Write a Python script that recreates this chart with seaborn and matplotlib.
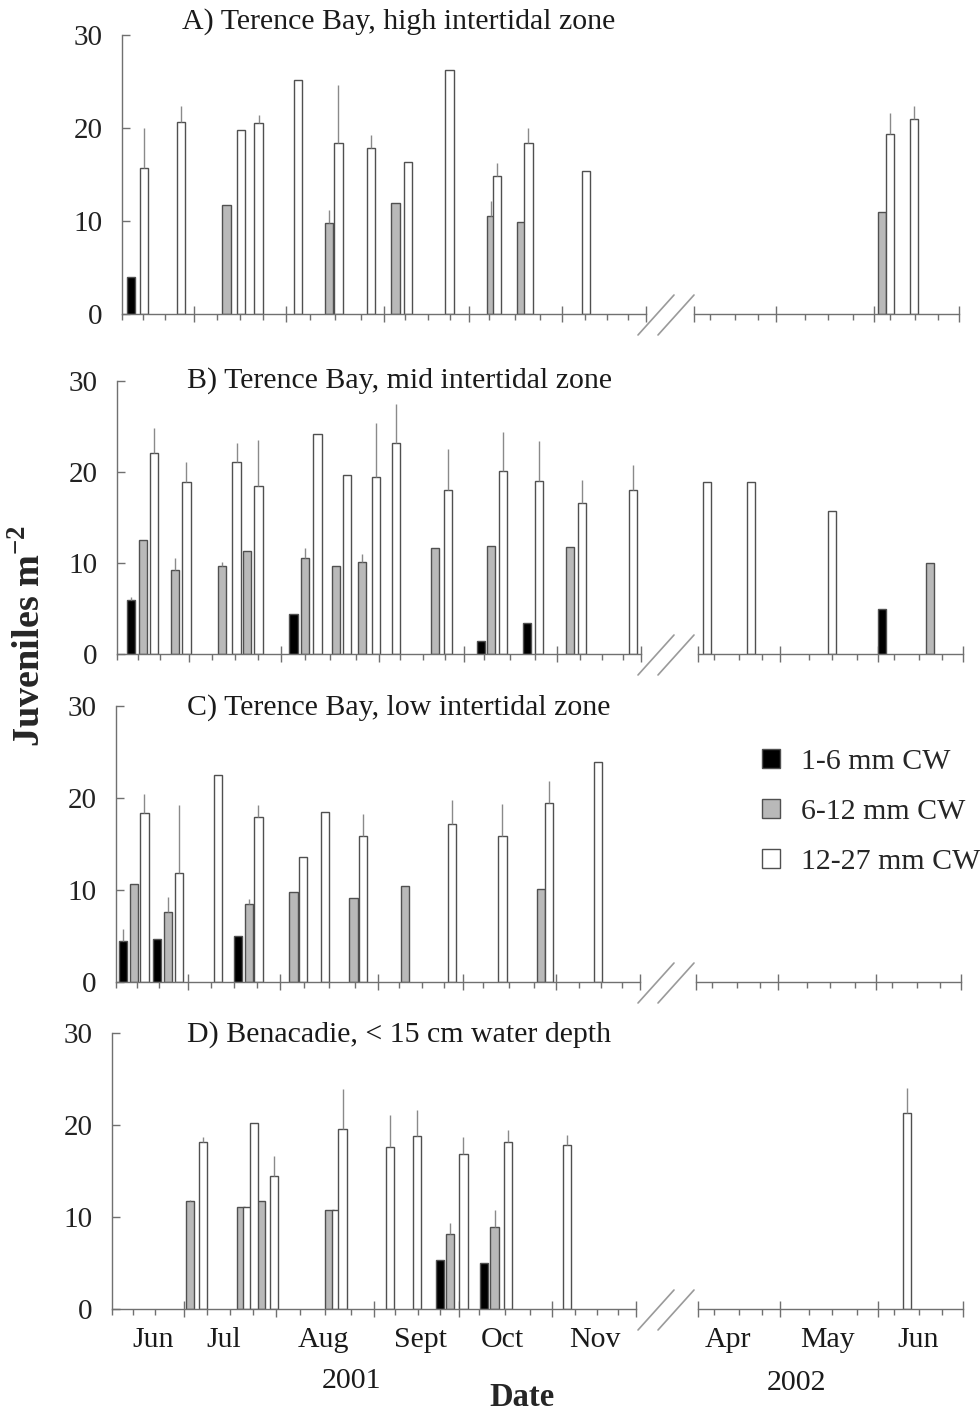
import numpy as np
import pandas as pd
import matplotlib
matplotlib.use("Agg")
import matplotlib.pyplot as plt
import seaborn as sns
from matplotlib.patches import Patch
from matplotlib.lines import Line2D

sns.set_theme(style="white")
plt.rcParams["font.family"] = ["Liberation Serif", "DejaVu Serif"]
plt.rcParams["mathtext.fontset"] = "custom"
plt.rcParams["mathtext.rm"] = "Liberation Serif"
plt.rcParams["mathtext.bf"] = "Liberation Serif:bold"

# ---------------- data ----------------
CLASSES = ["1-6 mm CW", "6-12 mm CW", "12-27 mm CW"]
TITLES = ["A) Terence Bay, high intertidal zone",
          "B) Terence Bay, mid intertidal zone",
          "C) Terence Bay, low intertidal zone",
          "D) Benacadie, < 15 cm water depth"]
MONTHS_2001 = ["Jun", "Jul", "Aug", "Sept", "Oct", "Nov"]
MONTHS_2002 = ["Apr", "May", "Jun"]
YEARS = ["2001", "2002"]

# sampling day (days from axis start), size class index, mean, upper SE
A_2001_DAY = [2.8, 6.8, 18.0, 31.9, 36.4, 41.7, 53.7, 63.3, 66.1, 76.0, 83.5, 87.3, 100.0, 112.7, 114.6, 121.9, 124.1, 141.6]
A_2001_CLS = [0, 2, 2, 1, 2, 2, 2, 1, 2, 2, 1, 2, 2, 1, 2, 1, 2, 2]
A_2001_VAL = [4.0, 15.7, 20.6, 11.7, 19.8, 20.5, 25.2, 9.8, 18.4, 17.9, 11.9, 16.3, 26.2, 10.5, 14.8, 9.9, 18.4, 15.4]
A_2001_ERR = [0, 4.3, 1.8, 0, 0, 0.9, 0, 1.4, 6.2, 1.3, 0, 0, 0, 1.6, 1.4, 0, 1.6, 0]
A_2002_DAY = [57.5, 59.9, 67.3]
A_2002_CLS = [1, 2, 2]
A_2002_VAL = [11.0, 19.4, 21.0]
A_2002_ERR = [0, 2.2, 1.4]

B_2001_DAY = [4.3, 7.9, 11.4, 17.7, 21.2, 32.1, 36.5, 39.7, 43.2, 53.9, 57.5, 61.2, 66.8, 70.3, 74.9, 79.0, 85.3,
              97.0, 101.0, 111.2, 114.2, 117.9, 125.3, 128.9, 138.4, 142.0, 157.5]
B_2001_CLS = [0, 1, 2, 1, 2, 1, 2, 1, 2, 0, 1, 2, 1, 2, 1, 2, 2, 1, 2, 0, 1, 2, 0, 2, 1, 2, 2]
B_2001_VAL = [5.9, 12.5, 22.1, 9.2, 18.9, 9.7, 21.1, 11.3, 18.5, 4.4, 10.6, 24.2, 9.7, 19.7, 10.1, 19.5, 23.2,
              11.7, 18.0, 1.4, 11.9, 20.1, 3.4, 19.0, 11.8, 16.6, 18.0]
B_2001_ERR = [0.4, 0, 2.7, 1.3, 2.2, 0.4, 2.1, 0, 5.0, 0, 1.0, 0, 0, 0, 0.9, 5.9, 4.3,
              0, 4.5, 0, 0, 4.3, 0, 4.4, 0, 2.5, 2.8]
B_2002_DAY = [2.8, 16.3, 41.0, 56.3, 70.9]
B_2002_CLS = [2, 2, 2, 0, 1]
B_2002_VAL = [18.9, 18.9, 15.7, 5.0, 10.0]
B_2002_ERR = [0, 0, 0, 0, 0]

C_2001_DAY = [2.1, 5.4, 8.7, 12.6, 16.0, 19.3, 31.1, 37.3, 40.6, 43.5, 54.2, 57.1, 63.7, 72.5, 75.3, 88.2,
              102.7, 118.0, 129.7, 132.2, 147.1]
C_2001_CLS = [0, 1, 2, 0, 1, 2, 2, 0, 1, 2, 1, 2, 2, 1, 2, 1, 2, 2, 1, 2, 2]
C_2001_VAL = [4.5, 10.7, 18.4, 4.7, 7.6, 11.8, 22.5, 5.0, 8.5, 17.9, 9.75, 13.6, 18.5, 9.1, 15.9, 10.4,
              17.2, 15.9, 10.1, 19.5, 23.9]
C_2001_ERR = [1.3, 0, 2.0, 0, 1.6, 7.4, 0, 0, 0.5, 1.3, 0, 0, 0, 0, 2.4, 0, 2.6, 3.5, 0, 2.4, 0]
C_2002_DAY = []
C_2002_CLS = []
C_2002_VAL = []
C_2002_ERR = []

D_2001_DAY = [23.7, 27.7, 39.5, 41.3, 43.3, 45.5, 49.5, 66.4, 68.4, 70.4, 84.9, 93.1, 100.2, 103.3, 107.3,
              113.5, 116.8, 120.9, 138.9]
D_2001_CLS = [1, 2, 1, 2, 2, 1, 2, 1, 2, 2, 2, 2, 0, 1, 2, 0, 1, 2, 2]
D_2001_VAL = [11.7, 18.1, 11.1, 11.1, 20.2, 11.7, 14.5, 10.8, 10.8, 19.6, 17.6, 18.8, 5.3, 8.15, 16.9,
              5.0, 8.95, 18.1, 17.8]
D_2001_ERR = [0.2, 0.6, 0, 0, 0, 0, 2.1, 0, 0, 4.3, 3.5, 2.8, 0, 1.25, 1.8, 0, 1.85, 1.4, 1.1]
D_2002_DAY = [63.9]
D_2002_CLS = [2]
D_2002_VAL = [21.3]
D_2002_ERR = [2.7]

# ---------------- style / layout ----------------
W, H = 980, 1412
FS = 21.5
PALETTE = {CLASSES[0]: "#000000", CLASSES[1]: "#b9b9b9", CLASSES[2]: "#ffffff"}
EDGE = "#505050"
AXC = "#707070"
ERRC = "#8a8a8a"
BAR_W = 2.5
LEFT_MAX, RIGHT_MAX = 160, 81

# pixel layout per panel: (left axis x0, right axis x0, baseline y, top y, title centre y)
LAYOUT = [(122, 694, 314, 35, 22),
          (117, 698, 654, 381, 381),
          (116, 696, 982, 706, 708),
          (112, 698, 1309, 1033, 1035)]
LEFT_W, RIGHT_W = 524, 265
L_MAJ = [22, 50, 80, 106, 134.5, 160]
L_MIN = [0, 6.5, 13, 29, 36, 43, 57.5, 65, 73, 86.5, 93.5, 100, 112, 120, 127.5, 141.5, 148, 154.5]
R_MAJ = [0, 25, 55, 81]
R_MIN = [5, 12.5, 19.5, 34, 41, 48.5, 60, 67.5, 74.5]
M2001_POS = [12.5, 34, 64.5, 94.1, 119.1, 147.5]
M2002_POS = [9.2, 39.7, 67.2]

DATA = [
    ((A_2001_DAY, A_2001_CLS, A_2001_VAL, A_2001_ERR), (A_2002_DAY, A_2002_CLS, A_2002_VAL, A_2002_ERR)),
    ((B_2001_DAY, B_2001_CLS, B_2001_VAL, B_2001_ERR), (B_2002_DAY, B_2002_CLS, B_2002_VAL, B_2002_ERR)),
    ((C_2001_DAY, C_2001_CLS, C_2001_VAL, C_2001_ERR), (C_2002_DAY, C_2002_CLS, C_2002_VAL, C_2002_ERR)),
    ((D_2001_DAY, D_2001_CLS, D_2001_VAL, D_2001_ERR), (D_2002_DAY, D_2002_CLS, D_2002_VAL, D_2002_ERR)),
]


def fx(px):
    return px / W


def fy(py):
    return 1 - py / H


def draw_bars(ax, day, cls, val, err):
    if len(day) == 0:
        return
    df = pd.DataFrame({"day": day, "size": [CLASSES[c] for c in cls], "val": val})
    u = np.unique(df["day"].values)
    nw = np.diff(u).min() if len(u) > 1 else 1.0
    sns.barplot(data=df, x="day", y="val", hue="size", hue_order=CLASSES, palette=PALETTE,
                native_scale=True, dodge=False, width=BAR_W / nw, edgecolor=EDGE, linewidth=1.0,
                saturation=1, errorbar=None, legend=False, ax=ax)
    for d, v, e in zip(day, val, err):
        if e > 0:
            ax.plot([d, d], [v, v + e], color=ERRC, lw=1.0, zorder=3, solid_capstyle="butt")


def style(ax, left, xmax, majors, minors):
    ax.set_xlim(0, xmax)
    ax.set_ylim(0, 30)
    ax.patch.set_alpha(0)
    for s in ["top", "right"]:
        ax.spines[s].set_visible(False)
    ax.spines["bottom"].set_color(AXC)
    ax.spines["bottom"].set_linewidth(1.0)
    ax.set_xticks(majors)
    ax.set_xticks(minors, minor=True)
    ax.tick_params(axis="x", which="major", direction="inout", length=12, width=1, color=AXC,
                   labelbottom=False, bottom=True)
    ax.tick_params(axis="x", which="minor", direction="out", length=4, width=1, color=AXC, bottom=True)
    ax.set_xlabel("")
    ax.set_ylabel("")
    if left:
        ax.spines["left"].set_color(AXC)
        ax.spines["left"].set_linewidth(1.0)
        ax.set_yticks([0, 10, 20, 30])
        ax.set_yticklabels(["0", "10", "20", "30"])
        ax.tick_params(axis="y", direction="in", length=6, width=1, color=AXC, pad=14,
                       labelsize=FS - 0.5, labelcolor="#222222", left=True)
    else:
        ax.spines["left"].set_visible(False)
        ax.set_yticks([])


fig = plt.figure(figsize=(W / 100, H / 100), dpi=100)

axes_left, axes_right = [], []
for i, ((lx, rx, yb, yt, ty), (d01, d02)) in enumerate(zip(LAYOUT, DATA)):
    h = (yb - yt) / H
    axl = fig.add_axes([fx(lx), fy(yb), LEFT_W / W, h])
    axr = fig.add_axes([fx(rx), fy(yb), RIGHT_W / W, h])
    draw_bars(axl, *d01)
    draw_bars(axr, *d02)
    style(axl, True, LEFT_MAX, L_MAJ, L_MIN)
    style(axr, False, RIGHT_MAX, R_MAJ, R_MIN)
    axes_left.append(axl)
    axes_right.append(axr)
    # panel title
    fig.text(fx(399), fy(ty), TITLES[i], ha="center", va="center", fontsize=FS, color="#1a1a1a")
    # axis break marks
    for x0 in (638, 658):
        fig.add_artist(Line2D([fx(x0), fx(x0 + 36)], [fy(yb + 21), fy(yb - 19)],
                              transform=fig.transFigure, color="#9a9a9a", lw=1.2))

# month labels under panel D
for lab, pos in zip(MONTHS_2001, M2001_POS):
    axes_left[-1].annotate(lab, xy=(pos, 0), xycoords=("data", "axes fraction"), xytext=(0, -31),
                           textcoords="offset pixels", ha="center", va="center", fontsize=FS,
                           color="#1a1a1a", annotation_clip=False)
for lab, pos in zip(MONTHS_2002, M2002_POS):
    axes_right[-1].annotate(lab, xy=(pos, 0), xycoords=("data", "axes fraction"), xytext=(0, -31),
                            textcoords="offset pixels", ha="center", va="center", fontsize=FS,
                            color="#1a1a1a", annotation_clip=False)

fig.text(fx(351), fy(1381), YEARS[0], ha="center", va="center", fontsize=FS, color="#1a1a1a")
fig.text(fx(796), fy(1383), YEARS[1], ha="center", va="center", fontsize=FS, color="#1a1a1a")
fig.text(fx(522), fy(1398), "Date", ha="center", va="center", fontsize=FS + 2, fontweight="bold")
fig.text(fx(30), fy(636), r"Juveniles m$^{\mathbf{-2}}$", rotation=90, ha="center", va="center",
         fontsize=27.5, fontweight="bold")

handles = [Patch(facecolor=PALETTE[c], edgecolor=EDGE, linewidth=1.0, label=c) for c in CLASSES]
fig.legend(handles=handles, loc="upper left", bbox_to_anchor=(fx(762), fy(749)), frameon=False,
           borderpad=0, borderaxespad=0, handlelength=0.6, handleheight=0.6, handletextpad=0.7,
           labelspacing=0.8, fontsize=FS)

fig.savefig("out.png", dpi=100)
